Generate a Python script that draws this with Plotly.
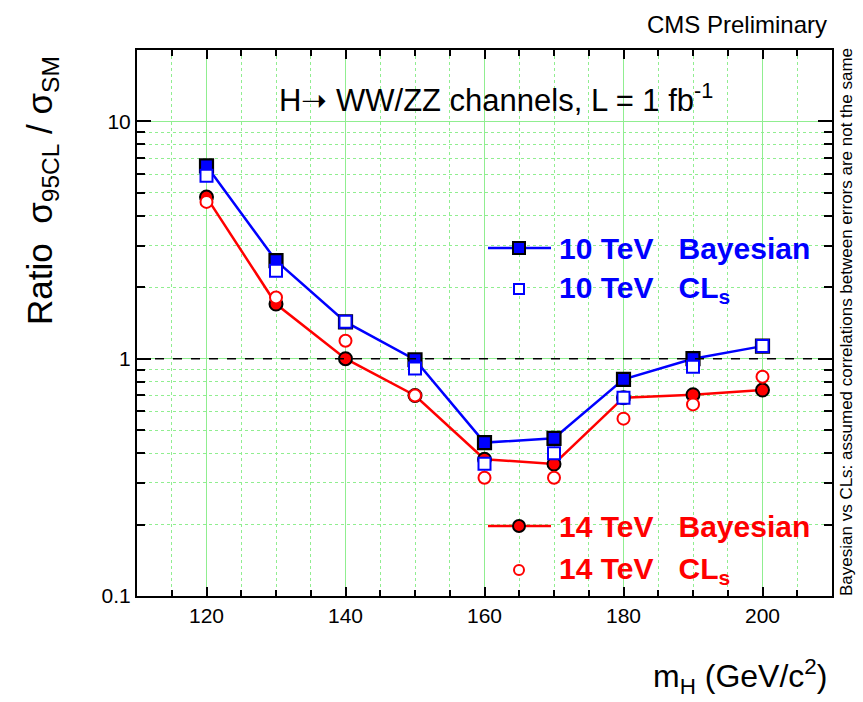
import plotly.graph_objects as go

# Higgs mass points (GeV/c^2)
mass = [120, 130, 140, 150, 160, 170, 180, 190, 200]

# Ratio sigma_95CL / sigma_SM
bayes_10tev = [6.5, 2.59, 1.43, 0.99, 0.443, 0.462, 0.818, 1.0, 1.13]
cls_10tev = [5.9, 2.35, 1.43, 0.91, 0.361, 0.40, 0.685, 0.925, 1.13]
bayes_14tev = [4.8, 1.70, 1.0, 0.70, 0.377, 0.36, 0.685, 0.705, 0.738]
cls_14tev = [4.58, 1.81, 1.19, 0.70, 0.315, 0.315, 0.559, 0.642, 0.84]

x_ticks = [120, 140, 160, 180, 200]
y_ticks = [0.1, 1, 10]
y_tick_text = ["0.1", "1", "10"]

BLUE = "#0000ff"
RED = "#ff0000"
GRID_GREEN = "#90ee90"
FONT = "Liberation Sans, Arial, sans-serif"

fig = go.Figure()

fig.add_trace(go.Scatter(
    x=mass, y=bayes_14tev, mode="lines+markers",
    line=dict(color=RED, width=2.5),
    marker=dict(symbol="circle", size=13, color=RED, line=dict(color="black", width=2)),
))
fig.add_trace(go.Scatter(
    x=mass, y=bayes_10tev, mode="lines+markers",
    line=dict(color=BLUE, width=2.5),
    marker=dict(symbol="square", size=13, color=BLUE, line=dict(color="black", width=2.2)),
))
fig.add_trace(go.Scatter(
    x=mass, y=cls_14tev, mode="markers",
    marker=dict(symbol="circle", size=12, color="white", line=dict(color=RED, width=2)),
))
fig.add_trace(go.Scatter(
    x=mass, y=cls_10tev, mode="markers",
    marker=dict(symbol="square", size=12, color="white", line=dict(color=BLUE, width=2)),
))

# plot-area geometry in pixels, used to place the hand-drawn legend
W, H = 863, 702
ML, MR, MT, MB = 137, 31, 50, 106
PW, PH = W - ML - MR, H - MT - MB


def px(xp):
    return (xp - ML) / PW


def py(yp):
    return (H - MB - yp) / PH


shapes = [
    # reference line at ratio = 1
    dict(type="line", xref="paper", yref="y", x0=0, x1=1, y0=1, y1=1,
         line=dict(color="black", width=1.6, dash="dash"), layer="above"),
]

SP = "&nbsp;&nbsp;&nbsp;"
legend_rows = [
    # (line?, symbol, color, y pixel, label)
    (True, "square", BLUE, 248, "<b>10 TeV" + SP + "Bayesian</b>"),
    (False, "square", BLUE, 289, "<b>10 TeV" + SP + "CL<sub>s</sub></b>"),
    (True, "circle", RED, 526, "<b>14 TeV" + SP + "Bayesian</b>"),
    (False, "circle", RED, 570, "<b>14 TeV" + SP + "CL<sub>s</sub></b>"),
]

annotations = []
for has_line, sym, col, ypix, label in legend_rows:
    cx = px(519)
    cy = py(ypix)
    if has_line:
        shapes.append(dict(type="line", xref="paper", yref="paper",
                           x0=px(488), x1=px(551), y0=cy, y1=cy,
                           line=dict(color=col, width=2.5)))
        size = 12
        fill = col
        edge = dict(color="black", width=2)
    else:
        size = 10
        fill = "white"
        edge = dict(color=col, width=2)
    shapes.append(dict(type="rect" if sym == "square" else "circle",
                       xref="paper", yref="paper",
                       xsizemode="pixel", ysizemode="pixel",
                       xanchor=cx, yanchor=cy,
                       x0=-size / 2, x1=size / 2, y0=-size / 2, y1=size / 2,
                       fillcolor=fill, line=edge))
    annotations.append(dict(text=label, xref="paper", yref="paper",
                            x=px(557), y=cy, xanchor="left", yanchor="middle",
                            showarrow=False,
                            font=dict(family=FONT, size=30, color=col)))

annotations += [
    dict(text="CMS Preliminary", xref="paper", yref="paper",
         x=px(829), y=py(25), xanchor="right", yanchor="middle",
         showarrow=False, font=dict(family=FONT, size=24, color="black")),
    dict(text="H\u279d WW/ZZ channels, L = 1 fb<sup>-1</sup>", xref="paper", yref="paper",
         x=px(496), y=py(98), xanchor="center", yanchor="middle",
         showarrow=False, font=dict(family=FONT, size=31, color="black")),
    dict(text="Ratio  \u03c3<sub>95CL</sub> / \u03c3<sub>SM</sub>", xref="paper", yref="paper",
         x=px(42), y=py(190), xanchor="center", yanchor="middle", textangle=-90,
         showarrow=False, font=dict(family=FONT, size=35, color="black")),
    dict(text="m<sub>H</sub> (GeV/c<sup>2</sup>)", xref="paper", yref="paper",
         x=px(829), y=py(676), xanchor="right", yanchor="middle",
         showarrow=False, font=dict(family=FONT, size=32, color="black")),
    dict(text="Bayesian vs CLs: assumed correlations between errors are not the same",
         xref="paper", yref="paper", x=px(846), y=py(322),
         xanchor="center", yanchor="middle", textangle=-90,
         showarrow=False, font=dict(family=FONT, size=17, color="black")),
]

y_minor = [m * 10 ** e for e in (-1, 0, 1) for m in range(2, 10)] + [20]

fig.update_layout(
    width=W, height=H,
    margin=dict(l=ML, r=MR, t=MT, b=MB),
    paper_bgcolor="white", plot_bgcolor="white",
    showlegend=False,
    shapes=shapes,
    annotations=annotations,
    font=dict(family=FONT, color="black"),
)

fig.update_xaxes(
    range=[110, 210],
    tickvals=x_ticks, ticktext=[str(v) for v in x_ticks],
    tickfont=dict(size=21, family=FONT, color="black"),
    ticks="inside", ticklen=9, tickwidth=1.5, tickcolor="black",
    showline=True, linecolor="black", linewidth=2, mirror="allticks",
    showgrid=True, gridcolor=GRID_GREEN, gridwidth=1,
    zeroline=False,
    minor=dict(dtick=5, tick0=110, ticks="inside", ticklen=6, tickcolor="black",
               tickwidth=1.5, showgrid=True, gridcolor=GRID_GREEN, griddash="dot",
               gridwidth=1),
)

fig.update_yaxes(
    type="log", range=[-1, 1.301],
    tickvals=y_ticks, ticktext=y_tick_text,
    tickfont=dict(size=21, family=FONT, color="black"),
    ticks="inside", ticklen=14, tickwidth=1.5, tickcolor="black",
    showline=True, linecolor="black", linewidth=2, mirror="allticks",
    showgrid=True, gridcolor=GRID_GREEN, gridwidth=1,
    zeroline=False,
    minor=dict(tickvals=y_minor, ticks="inside", ticklen=8, tickcolor="black",
               tickwidth=1.5, showgrid=True, gridcolor=GRID_GREEN, griddash="dot",
               gridwidth=1),
)

fig.write_html("out.html")
